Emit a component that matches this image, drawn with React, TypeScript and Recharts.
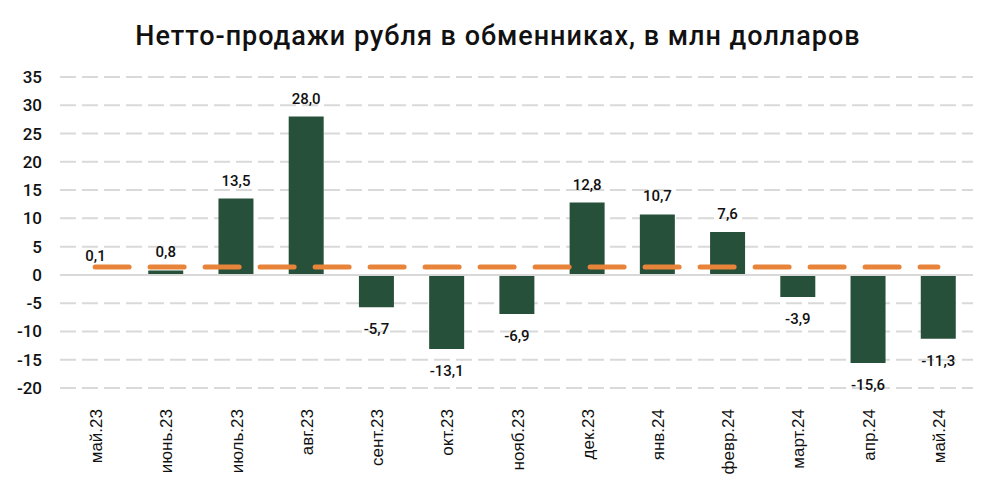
import React from "react";
import {
  ComposedChart,
  Bar,
  Line,
  XAxis,
  YAxis,
  CartesianGrid,
  ReferenceLine,
  LabelList,
} from "recharts";

const months = [
  "май.23",
  "июнь.23",
  "июль.23",
  "авг.23",
  "сент.23",
  "окт.23",
  "нояб.23",
  "дек.23",
  "янв.24",
  "февр.24",
  "март.24",
  "апр.24",
  "май.24",
];

const netSales = [0.1, 0.8, 13.5, 28.0, -5.7, -13.1, -6.9, 12.8, 10.7, 7.6, -3.9, -15.6, -11.3];

// average line
const average = [1.4, 1.4, 1.4, 1.4, 1.4, 1.4, 1.4, 1.4, 1.4, 1.4, 1.4, 1.4, 1.4];

const yTicks = [-20, -15, -10, -5, 0, 5, 10, 15, 20, 25, 30, 35];

const data = months.map((m, i) => ({ name: m, value: netSales[i], avg: average[i] }));

const FONT = "Roboto, 'DejaVu Sans', sans-serif";
const BAR_COLOR = "#27503a";
const LINE_COLOR = "#e8833a";

const fmt = (v: number) => v.toFixed(1).replace(".", ",");

function ValueLabel(props: any) {
  const { x, y, width, height, value } = props;
  const top = Math.min(y, y + height);
  const bottom = Math.max(y, y + height);
  const cx = x + width / 2;
  const ty = value >= 0 ? top - 13 : bottom + 27;
  return (
    <text x={cx} y={ty} textAnchor="middle" fontSize={15} fontFamily={FONT} fontWeight={500} fill="#111">
      {fmt(value)}
    </text>
  );
}

function MonthTick(props: any) {
  const { x, y, payload } = props;
  return (
    <text
      x={0}
      y={0}
      transform={`translate(${x + 7}, ${y + 13}) rotate(-90)`}
      textAnchor="end"
      fontSize={17}
      fontFamily="'Liberation Sans', Arial, sans-serif"
      fill="#111"
    >
      {payload.value}
    </text>
  );
}

export default function App() {
  return (
    <div
      style={{
        position: "absolute",
        left: 0,
        top: 0,
        width: 996,
        height: 484,
        background: "#fff",
      }}
    >
      <div
        style={{
          position: "absolute",
          top: 20,
          left: 0,
          width: 996,
          textAlign: "center",
          fontFamily: FONT,
          fontSize: 27,
          fontWeight: 500,
          letterSpacing: 1,
          color: "#111",
        }}
      >
        Нетто-продажи рубля в обменниках, в млн долларов
      </div>
      <ComposedChart
        width={996}
        height={484}
        data={data}
        margin={{ top: 77, right: 23, bottom: 0, left: 0 }}
        barCategoryGap="25%"
      >
        <CartesianGrid vertical={false} stroke="#d9d9d9" strokeWidth={2} strokeDasharray="16 6" />
        <XAxis
          dataKey="name"
          axisLine={false}
          tickLine={false}
          interval={0}
          tick={<MonthTick />}
          height={96}
        />
        <YAxis
          domain={[-20, 35]}
          ticks={yTicks}
          interval={0}
          axisLine={false}
          tickLine={false}
          width={60}
          tick={{ fontSize: 17, fontFamily: FONT, fontWeight: 500, fill: "#111" }}
          tickMargin={12}
        />
        <ReferenceLine y={0} stroke="#d9d9d9" strokeWidth={2} />
        <Bar dataKey="value" fill={BAR_COLOR} barSize={35} isAnimationActive={false}>
          <LabelList dataKey="value" content={<ValueLabel />} />
        </Bar>
        <Line
          dataKey="avg"
          stroke={LINE_COLOR}
          strokeWidth={5}
          strokeDasharray="34 21"
          strokeLinecap="round"
          dot={false}
          activeDot={false}
          isAnimationActive={false}
        />
      </ComposedChart>
    </div>
  );
}
